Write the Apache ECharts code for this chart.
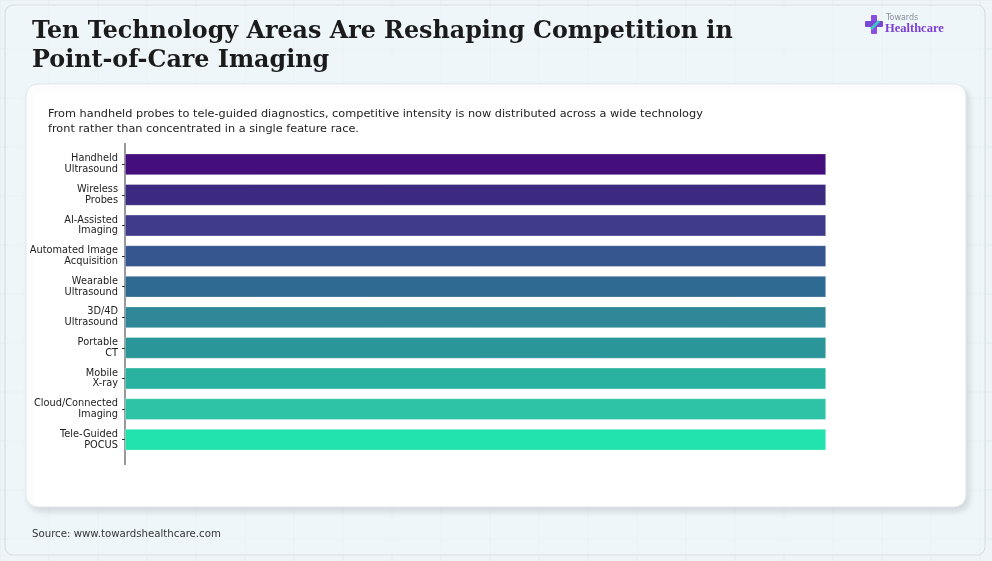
<!DOCTYPE html>
<html>
<head>
<meta charset="utf-8">
<script src="https://cdn.jsdelivr.net/npm/echarts@6/dist/echarts.min.js"></script>
<style>
  html, body { margin: 0; padding: 0; background: #eef4f8; }
  #chart { width: 992px; height: 561px; }
</style>
</head>
<body>
<div id="chart"></div>
<script>
// technology areas, top to bottom
var areas = [
  'Handheld\nUltrasound',
  'Wireless\nProbes',
  'AI-Assisted\nImaging',
  'Automated Image\nAcquisition',
  'Wearable\nUltrasound',
  '3D/4D\nUltrasound',
  'Portable\nCT',
  'Mobile\nX-ray',
  'Cloud/Connected\nImaging',
  'Tele-Guided\nPOCUS'
];
// every area shown at the same full length
var values = [1, 1, 1, 1, 1, 1, 1, 1, 1, 1];
var barColors = [
  '#440f7c', '#3c2a80', '#3f3b8a', '#36568f', '#2f6a92',
  '#2f8797', '#2b9699', '#29b2a0', '#2ec3a7', '#22e2ae'
];

var titleText = 'Ten Technology Areas Are Reshaping Competition in\nPoint-of-Care Imaging';
var subText = 'From handheld probes to tele-guided diagnostics, competitive intensity is now distributed across a wide technology\nfront rather than concentrated in a single feature race.';
var sourceText = 'Source: www.towardshealthcare.com';

var myChart = echarts.init(document.getElementById('chart'));

// faint background grid
var bgLines = [];
for (var gx = 0; gx < 992; gx += 49) {
  bgLines.push({ type: 'line', silent: true, z: -9,
    shape: { x1: gx, y1: 0, x2: gx, y2: 561 },
    style: { stroke: '#e3ecf2', lineWidth: 1 } });
}
for (var gy = 0; gy < 561; gy += 49) {
  bgLines.push({ type: 'line', silent: true, z: -9,
    shape: { x1: 0, y1: gy, x2: 992, y2: gy },
    style: { stroke: '#e3ecf2', lineWidth: 1 } });
}

var option = {
  backgroundColor: '#eef4f8',
  animation: false,
  graphic: bgLines.concat([
    {
      type: 'rect', z: -8, silent: true,
      shape: { x: 5, y: 5, width: 980, height: 550, r: 8 },
      style: { fill: 'rgba(240,246,250,0.6)', stroke: '#d6dfe5', lineWidth: 1.2 }
    },
    {
      type: 'rect', z: -7, silent: true,
      shape: { x: 26, y: 84, width: 940, height: 423, r: 12 },
      style: { fill: '#ffffff', stroke: '#e2e8ec', lineWidth: 1,
        shadowBlur: 6, shadowColor: 'rgba(0,0,0,0.12)', shadowOffsetX: 3, shadowOffsetY: 4 }
    },
    {
      type: 'text', left: 32, top: 17,
      style: {
        text: titleText,
        font: 'bold 23.8px "DejaVu Serif"',
        lineHeight: 29,
        fill: '#1b1b1b'
      }
    },
    {
      type: 'text', left: 48, top: 107,
      style: {
        text: subText,
        font: '11.3px "DejaVu Sans"',
        lineHeight: 14.5,
        fill: '#222222'
      }
    },
    {
      type: 'text', left: 32, top: 529,
      style: {
        text: sourceText,
        font: '10.2px "DejaVu Sans"',
        fill: '#333333'
      }
    },
    // logo
    {
      type: 'group', left: 865, top: 14,
      children: [
        { type: 'rect', shape: { x: 6, y: 0, width: 6, height: 19, r: 1 },
          style: { fill: '#8a4fe0' } },
        { type: 'rect', shape: { x: 0, y: 6, width: 18, height: 6, r: 1 },
          style: { fill: '#7a46d8' } },
        { type: 'polygon', shape: { points: [[5, 13], [13, 5], [15, 7], [7, 15]] },
          style: { fill: '#3cc8c0' } },
        { type: 'text', x: 21, y: -1,
          style: { text: 'Towards', font: '8px "DejaVu Sans"', fill: '#8a8f9a' } },
        { type: 'text', x: 20, y: 7,
          style: { text: 'Healthcare', font: 'bold 12.5px "Liberation Serif"', fill: '#7b3fd6' } }
      ]
    },
    // y axis spine
    {
      type: 'line', silent: true,
      shape: { x1: 125, y1: 143, x2: 125, y2: 465 },
      style: { stroke: '#333333', lineWidth: 1 }
    }
  ]),
  grid: {
    left: 125,
    width: 701,
    top: 149,
    height: 306
  },
  xAxis: {
    type: 'value',
    min: 0,
    max: 1,
    show: false
  },
  yAxis: {
    type: 'category',
    data: areas,
    inverse: true,
    axisLine: { show: false },
    axisTick: { show: true, alignWithLabel: true, length: 3, lineStyle: { color: '#333333' } },
    axisLabel: {
      color: '#222222',
      fontFamily: 'DejaVu Sans',
      fontSize: 9.8,
      lineHeight: 10.8,
      margin: 7,
      padding: [4, 0, 0, 0],
      align: 'right'
    },
    splitLine: { show: false }
  },
  series: [{
    type: 'bar',
    data: values.map(function (v, i) {
      return { value: v, itemStyle: { color: barColors[i] } };
    }),
    barWidth: '70%',
    itemStyle: { borderColor: 'rgba(255,255,255,0.5)', borderWidth: 0.6 }
  }]
};

myChart.setOption(option);
</script>
</body>
</html>
